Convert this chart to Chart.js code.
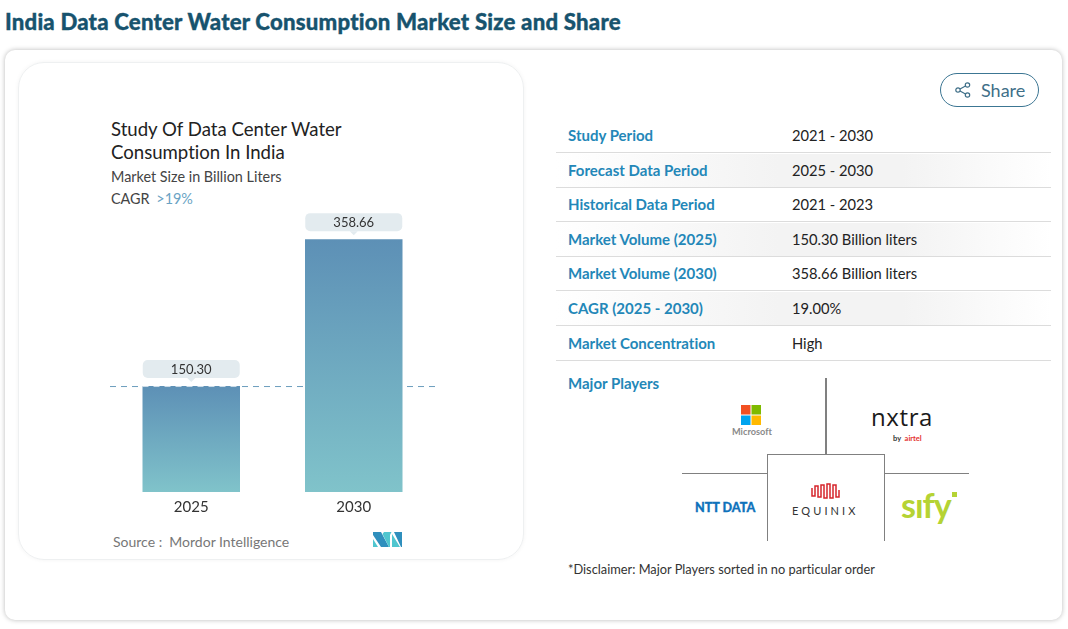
<!DOCTYPE html>
<html>
<head>
<meta charset="utf-8">
<script src="https://cdn.jsdelivr.net/npm/chart.js@4"></script>
<style>
  html, body { margin: 0; padding: 0; background: #fff; }
  body { width: 1068px; height: 629px; position: relative; overflow: hidden; font-family: Lato, sans-serif; color: #222; font-variant-ligatures: none; }
  .abs { position: absolute; white-space: nowrap; }
  #title { left: 5px; top: 8px; font-size: 22.2px; font-weight: 900; color: #17536e; -webkit-text-stroke: .35px #17536e; letter-spacing: .2px; }
  #card { left: 5px; top: 50px; width: 1057px; height: 570px; border-radius: 10px; background: #fff; box-shadow: 0 0 5px rgba(0,0,0,.28); }
  #inner { left: 18px; top: 62px; width: 504px; height: 496px; border-radius: 26px; border: 1px solid #eef0f1; box-shadow: 0 0 4px rgba(0,0,0,.05); }
  #chartWrap { left: 110px; top: 200px; width: 328px; height: 320px; }
  #chart { display: block; }
  .ct { font-size: 18.6px; color: #222; line-height: 24px; }
  .cs { font-size: 14.4px; color: #444; }
  #share { left: 940px; top: 73px; width: 97px; height: 32px; border: 1.5px solid #3c7693; border-radius: 17px; }
  #share span { position: absolute; left: 40px; top: 5px; font-size: 18px; color: #3f6f88; }
  #share svg { position: absolute; left: 14px; top: 8px; }
  .row { left: 556px; width: 495px; height: 33px; border-bottom: 1.5px solid #dcdcdc; }
  .row b { position: absolute; left: 12px; top: 7px; font-size: 15px; font-weight: 700; color: #2387b8; }
  .row i { position: absolute; left: 236px; top: 7px; font-size: 14.7px; font-style: normal; color: #222; }
  .shade { background: linear-gradient(90deg, #fff 0%, #f3f3f3 45%, #f3f3f3 70%, #fff 100%); }
  .ln { background: #808080; }
</style>
</head>
<body>
<div class="abs" id="title">India Data Center Water Consumption Market Size and Share</div>
<div class="abs" id="card"></div>
<div class="abs" id="inner"></div>

<div class="abs ct" style="left:111px;top:117px">Study Of Data Center Water</div>
<div class="abs ct" style="left:111px;top:140px">Consumption In India</div>
<div class="abs cs" style="left:111px;top:168px">Market Size in Billion Liters</div>
<div class="abs cs" style="left:111px;top:190px">CAGR <span style="color:#6aa3c4;margin-left:3px">&gt;19%</span></div>

<div class="abs" id="chartWrap"><canvas id="chart" width="328" height="320"></canvas></div>

<div class="abs" style="left:113px;top:533px;font-size:14px;color:#777">Source :&nbsp; Mordor Intelligence</div>
<svg class="abs" style="left:373px;top:532px" width="29" height="16" viewBox="0 0 29 16">
  <polygon points="0,0 8,0 16,15 8,15 0,3" fill="#2f8fbd"/>
  <polygon points="0,7 5,15 0,15" fill="#4fc6cf"/>
  <polygon points="17,15 17,3 18.5,0 11,0 9.5,2 16,15" fill="#4fc6cf"/>
  <polygon points="19,2 27,15 19,15" fill="#4fc6cf"/>
  <polygon points="21,0 29,0 29,15 28,15" fill="#2f8fbd"/>
</svg>

<div class="abs" id="share">
  <svg width="16" height="16" viewBox="0 0 16 16" fill="none" stroke="#3f6f88" stroke-width="1.2">
    <circle cx="3" cy="8" r="2.2"/><circle cx="12.5" cy="3" r="2.2"/><circle cx="12.5" cy="13" r="2.2"/>
    <path d="M5 7 10.5 4M5 9 10.5 12"/>
  </svg>
  <span>Share</span>
</div>

<div id="table"></div>

<div class="abs" style="left:568px;top:374px;font-size:15px;font-weight:700;color:#2387b8">Major Players</div>

<div class="abs ln" style="left:825px;top:378px;width:1.5px;height:76px"></div>
<div class="abs ln" style="left:682px;top:472.5px;width:85px;height:1.5px"></div>
<div class="abs ln" style="left:884px;top:472.5px;width:85px;height:1.5px"></div>
<div class="abs" style="left:766.5px;top:454px;width:116px;height:86px;border:1.5px solid #808080;border-bottom:none"></div>

<svg class="abs" style="left:741px;top:405px" width="20" height="20">
  <rect width="9.5" height="9.5" fill="#f25022"/><rect x="10.5" width="9.5" height="9.5" fill="#7fba00"/>
  <rect y="10.5" width="9.5" height="9.5" fill="#00a4ef"/><rect x="10.5" y="10.5" width="9.5" height="9.5" fill="#ffb900"/>
</svg>
<div class="abs" style="left:732px;top:426px;font-size:9.2px;font-weight:700;color:#8a8a8a">Microsoft</div>

<div class="abs" style="left:871px;top:401px;font-size:24px;line-height:32px;font-family:'Open Sans';color:#1b1b1b;letter-spacing:.6px">nxtra</div>
<div class="abs" style="left:893px;top:434px;font-size:7.5px;line-height:9px;font-weight:700;color:#333">by <span style="color:#e4312f">&nbsp;airtel</span></div>

<div class="abs" style="left:695px;top:500px;font-size:12.6px;font-weight:900;color:#0f72bb;-webkit-text-stroke:.3px #0f72bb">NTT DATA</div>

<svg class="abs" style="left:811px;top:483px" width="32" height="16" viewBox="0 0 32 16" fill="none" stroke="#d6262c" stroke-width="1.5">
  <path d="M1 5V13H4V3H7V14H10V2H13V15H16V1H19V15H22V2H25V14H28V7"/>
</svg>
<div class="abs" style="left:792px;top:504px;font-size:11px;color:#333;letter-spacing:3.1px">EQUINIX</div>

<div class="abs" style="left:901px;top:484px;font-size:34px;font-weight:700;color:#b5d334;letter-spacing:-1px">sıfy</div>
<div class="abs" style="left:952px;top:492px;width:5px;height:5px;background:#b5d334"></div>

<div class="abs" style="left:568px;top:561px;font-size:12.8px;color:#333">*Disclaimer: Major Players sorted in no particular order</div>

<script>
const years = ["2025", "2030"];
const volumes = [150.30, 358.66];
const valueLabels = ["150.30", "358.66"];
const baselineValue = 150.30;
const rowLabels = ["Study Period", "Forecast Data Period", "Historical Data Period", "Market Volume (2025)", "Market Volume (2030)", "CAGR (2025 - 2030)", "Market Concentration"];
const rowValues = ["2021 - 2030", "2025 - 2030", "2021 - 2023", "150.30 Billion liters", "358.66 Billion liters", "19.00%", "High"];

// info table on the right
const table = document.getElementById("table");
rowLabels.forEach((label, i) => {
  const row = document.createElement("div");
  row.className = "abs row" + (i % 2 ? " shade" : "");
  row.style.top = (119.2 + i * 34.55) + "px";
  row.innerHTML = "<b>" + label + "</b><i>" + rowValues[i] + "</i>";
  table.appendChild(row);
});

function dashedLine(chart, color, from, to) {
  const y = chart.scales.y.getPixelForValue(baselineValue);
  const c = chart.ctx;
  c.save();
  c.strokeStyle = color;
  c.lineWidth = 1;
  c.setLineDash([6, 5]);
  c.beginPath();
  c.moveTo(from, y + 0.5);
  c.lineTo(to, y + 0.5);
  c.stroke();
  c.restore();
}

// dashed line behind the bars, faint white dashes on top of the first bar
const baseline = {
  id: "baseline",
  beforeDatasetsDraw(chart) {
    dashedLine(chart, "#6c9dbd", 0, chart.width);
  },
  afterDatasetsDraw(chart) {
    const bar = chart.getDatasetMeta(0).data[0];
    dashedLine(chart, "rgba(255,255,255,.7)", bar.x - bar.width / 2, bar.x + bar.width / 2);
  }
};

// rounded callouts above each bar
const callouts = {
  id: "callouts",
  afterDatasetsDraw(chart) {
    const c = chart.ctx;
    chart.getDatasetMeta(0).data.forEach((bar, i) => {
      const w = 97, h = 18, top = bar.y - 26;
      c.save();
      c.fillStyle = "#e3ebef";
      c.beginPath();
      c.roundRect(bar.x - w / 2, top, w, h, 5);
      c.fill();
      c.beginPath();
      c.moveTo(bar.x - 4, top + h);
      c.lineTo(bar.x + 4, top + h);
      c.lineTo(bar.x, top + h + 4);
      c.fill();
      c.fillStyle = "#333";
      c.font = "13px Lato";
      c.textAlign = "center";
      c.textBaseline = "middle";
      c.fillText(valueLabels[i], bar.x, top + h / 2 + 0.5);
      c.restore();
    });
  }
};

new Chart(document.getElementById("chart"), {
  type: "bar",
  plugins: [baseline, callouts],
  data: {
    labels: years,
    datasets: [{
      data: volumes,
      barPercentage: 0.8,
      categoryPercentage: 0.75,
      backgroundColor(ctx) {
        const { chart, parsed } = ctx;
        if (!chart.chartArea || !parsed) return "#6fa8bf";
        const yScale = chart.scales.y;
        const g = chart.ctx.createLinearGradient(0, yScale.getPixelForValue(parsed.y), 0, yScale.getPixelForValue(0));
        g.addColorStop(0, "#5d90b6");
        g.addColorStop(1, "#80c3ca");
        return g;
      }
    }]
  },
  options: {
    responsive: false,
    animation: false,
    layout: { padding: { top: 10, right: 3 } },
    plugins: { legend: { display: false }, tooltip: { enabled: false } },
    scales: {
      x: {
        grid: { display: false, drawTicks: false },
        border: { display: false },
        ticks: { color: "#333", font: { family: "Lato", size: 15 }, padding: 6 },
        afterFit(scale) { scale.height = 28; }
      },
      y: { display: false, min: 0, max: 400 }
    }
  }
});
</script>
</body>
</html>
